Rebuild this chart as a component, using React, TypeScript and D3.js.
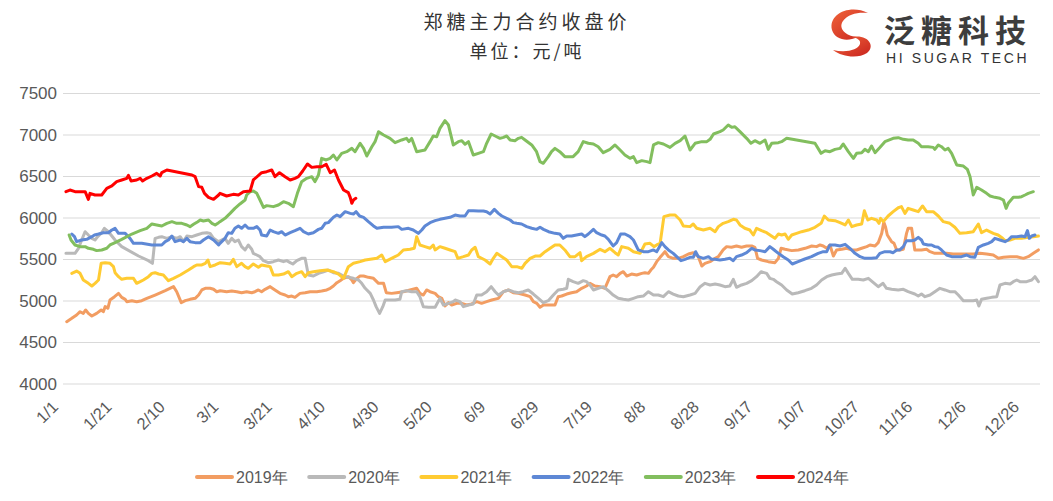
import * as d3 from "d3";

const seriesNames = ["2019年", "2020年", "2021年", "2022年", "2023年", "2024年"];
const seriesColors = ["#F29D62", "#B9B9B9", "#FFCB32", "#5E88D5", "#82BE5E", "#FF0000"];

const yTicks = [4000, 4500, 5000, 5500, 6000, 6500, 7000, 7500];
const xTickDays = [0, 20, 40, 60, 80, 100, 120, 140, 160, 180, 200, 220, 240, 260, 280, 300, 320, 340, 360];
const xTickLabels = ["1/1", "1/21", "2/10", "3/1", "3/21", "4/10", "4/30", "5/20", "6/9", "6/29", "7/19", "8/8", "8/28", "9/17", "10/7", "10/27", "11/16", "12/6", "12/26"];

// [day of year, close price]
const s2019: [number, number][] = [[0.9,4751],[2.8,4791],[4.6,4831],[5.9,4871],[7.1,4851],[8,4892],[9,4851],[10.3,4819],[12.1,4851],[13.8,4892],[14.6,4871],[15.3,4932],[16.3,4912],[17.1,5012],[18.8,5052],[20.3,5092],[21.5,5044],[22.8,5020],[23.4,4992],[25.3,5004],[27.1,4992],[29,5004],[30.9,5032],[34,5072],[37.8,5124],[40.9,5173],[42.1,5112],[43.8,4980],[45.3,5004],[47.1,5020],[49,5032],[50.3,5072],[51.5,5133],[52.8,5153],[54.6,5153],[55.9,5141],[57.1,5112],[58.4,5124],[60.8,5112],[62.7,5120],[64.6,5112],[66.4,5100],[68.3,5112],[70.2,5100],[71.4,5112],[72.7,5133],[73.9,5112],[75.2,5141],[77.1,5173],[78.9,5133],[80.8,5092],[82.7,5072],[83.9,5052],[85.2,5060],[86.4,5044],[88.3,5092],[90.2,5100],[92.1,5112],[94.6,5112],[96.4,5120],[98.3,5133],[99.6,5153],[100.8,5181],[102.1,5221],[103.3,5245],[104.6,5273],[106.4,5293],[107.7,5253],[108.3,5221],[109.6,5273],[110.8,5301],[112.1,5301],[113.9,5285],[115.8,5273],[117.7,5213],[119.6,5213],[120.6,5100],[122.6,5092],[124.5,5100],[127,5112],[129.5,5133],[132,5153],[133.2,5092],[134.5,5072],[135.7,5133],[137,5112],[138.9,5092],[140.1,5052],[141.4,5032],[142.6,4940],[143.9,4980],[145.1,4952],[147,4972],[148.9,4972],[150.7,4952],[152.6,4964],[154.5,4992],[156.3,4972],[158.2,4992],[160.1,5012],[162.6,5032],[164.5,5112],[166.4,5133],[168.2,5100],[170.1,5092],[172.6,5072],[174.5,5052],[175.7,4992],[177,4972],[178.2,4924],[179.5,4952],[181.4,4952],[183.8,4952],[185,5052],[186.3,5060],[188.2,5084],[190,5100],[191.9,5112],[193.8,5153],[195.6,5181],[196.9,5213],[198.8,5181],[200.7,5173],[202.5,5153],[204.4,5293],[205.6,5313],[206.9,5293],[208.2,5333],[209.4,5353],[210.7,5301],[212.5,5325],[214.4,5313],[216.3,5333],[217.5,5341],[218.8,5333],[219.7,5373],[220.7,5406],[221.9,5474],[223.2,5526],[225,5594],[226.3,5534],[228.1,5514],[230,5514],[231.9,5534],[233.8,5566],[235.6,5582],[237.5,5534],[238.8,5422],[240,5454],[241.9,5474],[243.8,5514],[245,5534],[246.8,5615],[248.1,5655],[249.9,5647],[251.8,5663],[253.7,5647],[255.6,5663],[257.5,5663],[258.7,5647],[259.7,5514],[261.2,5494],[263.7,5474],[266.2,5462],[267.5,5514],[268.5,5635],[270,5623],[272.5,5607],[275,5615],[277.5,5635],[280,5663],[281.8,5655],[283.1,5675],[284.3,5663],[285.6,5635],[286.8,5675],[288.1,5542],[289.3,5615],[291.2,5623],[293.1,5635],[294.9,5615],[296.8,5615],[298.7,5635],[300.6,5655],[301.8,5675],[303.7,5663],[304.9,5703],[306.2,5815],[307,5950],[307.6,5896],[308.3,5795],[309.9,5715],[310.8,5695],[311.8,5615],[313,5615],[314.3,5623],[315.5,5815],[316.1,5876],[317.4,5876],[318.6,5615],[319.9,5615],[321.1,5615],[323,5623],[324.3,5594],[326.1,5574],[328,5574],[330.5,5574],[333,5566],[335.5,5566],[338,5566],[340.5,5566],[343,5574],[345.5,5566],[348,5554],[349.9,5514],[351.8,5526],[354.3,5534],[356.8,5534],[359.3,5514],[361.1,5534],[363,5574],[364.9,5615]];

const s2020: [number, number][] = [[0.6,5574],[4,5574],[5.3,5635],[6.5,5735],[7.8,5835],[9,5795],[10.3,5755],[11.5,5735],[12.5,5775],[14,5823],[15,5876],[16.5,5835],[17.8,5783],[19,5735],[21.5,5655],[27.8,5542],[31.5,5486],[33,5454],[34,5755],[35.3,5767],[36.5,5775],[38.4,5755],[40.3,5775],[42.1,5755],[43.4,5775],[44.6,5715],[45.9,5783],[47.8,5775],[49.6,5795],[51.5,5815],[53.4,5823],[54.6,5815],[55.9,5755],[57.8,5715],[60.2,5755],[61.4,5695],[62.7,5755],[63.9,5715],[65.2,5735],[66.4,5655],[67.7,5615],[68.9,5675],[70.2,5623],[70.8,5574],[72.1,5554],[73.3,5534],[74.6,5486],[76.4,5462],[78.3,5474],[80.2,5494],[82.1,5474],[83.3,5486],[84.6,5462],[85.6,5446],[87.1,5486],[88.9,5514],[90.2,5514],[91.4,5313],[93.3,5301],[95.2,5333],[97.1,5353],[98.9,5373],[100.8,5341],[102.7,5333],[104.6,5301],[106.4,5285],[108.3,5273],[110.2,5253],[111.4,5213],[112.7,5153],[114.6,5092],[115.8,5012],[116.8,4932],[118.1,4851],[119.3,4932],[120.2,5012],[122,5012],[123.9,5012],[125.7,5020],[126.4,5112],[128.2,5124],[130.1,5112],[132,5112],[133.2,5052],[134.5,4932],[136.4,4924],[138.9,4924],[140.7,5032],[142,4952],[143.9,4972],[145.7,4992],[146.4,5012],[148.2,4992],[149.5,4932],[151.4,4952],[153.2,4964],[154.5,5072],[156.3,5072],[158.2,5112],[159.9,5173],[161.4,5112],[162.6,5072],[164.5,5112],[166.4,5133],[168.2,5112],[170.1,5100],[171.9,5112],[173.8,5133],[175.7,5084],[177.6,5032],[179.4,4980],[181.3,5004],[183.2,5072],[185,5133],[186.9,5141],[188.2,5153],[188.8,5261],[190.6,5233],[192.5,5213],[194.4,5245],[195.6,5233],[196.9,5193],[198.2,5133],[200,5153],[201.9,5173],[203.8,5124],[205.6,5072],[207.5,5032],[209.4,5020],[211.3,5012],[213.2,5032],[215,5052],[216.9,5060],[218.8,5112],[220.7,5072],[222.5,5072],[224.4,5052],[226.3,5112],[228.1,5084],[230,5060],[231.9,5052],[234.4,5072],[236.3,5092],[238.2,5173],[240,5213],[241.9,5193],[243.8,5205],[245.6,5193],[247.5,5173],[249.3,5181],[250.6,5261],[251.8,5165],[253.7,5193],[255.6,5213],[257.5,5245],[259.3,5293],[261,5353],[263.1,5333],[264.3,5273],[265.6,5261],[266.8,5233],[268.7,5193],[270.6,5133],[272.7,5084],[274.9,5100],[277.4,5124],[279.9,5153],[281.8,5193],[283.7,5253],[285.6,5293],[287.5,5313],[289.3,5325],[291.2,5333],[292.5,5394],[293.7,5333],[295.2,5261],[297.4,5261],[299.3,5253],[301.2,5273],[303.1,5221],[304.9,5173],[306.7,5213],[308,5153],[309.9,5141],[312.4,5133],[314.3,5141],[316.1,5112],[318.6,5084],[319.9,5060],[321.1,5084],[322.4,5052],[324.3,5072],[326.1,5112],[328,5153],[329.9,5133],[331.7,5112],[333.6,5112],[334.9,5072],[336.8,5004],[338.6,5004],[340.5,5004],[341.8,5012],[342.6,4940],[343.6,5020],[345.5,5032],[347.4,5044],[349.3,5052],[350.5,5193],[352.4,5213],[354.3,5205],[355.5,5233],[356.8,5253],[358,5233],[360.5,5233],[362.4,5253],[363.6,5293],[364.9,5233]];

const s2021: [number, number][] = [[2.8,5333],[4.6,5361],[5.9,5333],[7.1,5253],[9,5213],[10.3,5181],[11.5,5213],[12.8,5253],[13.8,5454],[15.3,5462],[17.1,5454],[18.4,5414],[19,5341],[20.3,5293],[21.5,5261],[23.4,5273],[25.9,5273],[27.1,5213],[28.4,5233],[29.6,5253],[31.5,5293],[32.8,5333],[34,5341],[35.3,5325],[37.1,5313],[39,5245],[40.9,5273],[43.4,5313],[46.5,5373],[48.4,5414],[49.6,5434],[51.5,5434],[52.8,5454],[53.8,5494],[54.6,5414],[56.5,5434],[58.4,5462],[60.2,5454],[62.1,5446],[63.3,5502],[64.6,5414],[66.4,5454],[67.7,5414],[68.9,5394],[70.8,5446],[72.7,5406],[73.9,5434],[75.8,5422],[77.1,5414],[78.3,5313],[80.2,5313],[82.1,5325],[83.9,5353],[85.2,5293],[87.1,5333],[88.9,5353],[90.2,5293],[91.4,5341],[93.3,5353],[95.8,5365],[98.3,5373],[100.8,5353],[102.7,5325],[104.6,5273],[106.4,5414],[108.3,5454],[110.8,5474],[112.7,5494],[114.6,5502],[117.1,5514],[118.9,5554],[120.2,5474],[122.6,5514],[125.1,5554],[127,5615],[129.5,5623],[131.1,5635],[132,5775],[133.2,5675],[135.1,5655],[137,5635],[138.2,5675],[138.9,5615],[140.7,5655],[142.6,5635],[144.5,5615],[146.4,5594],[147.4,5514],[149.5,5534],[151.4,5554],[152.6,5615],[153.9,5647],[155.1,5534],[157.6,5494],[159.5,5446],[160.7,5514],[162,5574],[163.9,5534],[165.7,5494],[167.6,5414],[169.5,5414],[171.4,5394],[172.6,5454],[174.5,5514],[176.4,5542],[178.2,5542],[180.1,5594],[182,5635],[183.8,5675],[185.6,5675],[187.5,5615],[189.4,5534],[191.3,5534],[193.2,5582],[193.8,5486],[195.6,5534],[198.2,5574],[200.7,5623],[202.5,5594],[204.4,5635],[206.3,5582],[207.5,5554],[208.8,5655],[211.3,5635],[213.2,5594],[215.7,5574],[217.5,5687],[219.4,5695],[220.9,5655],[221.9,5675],[223.2,5695],[224.6,6016],[226.9,6036],[228.8,6036],[230.7,5976],[231.9,5904],[234.4,5896],[235.6,5928],[236.9,5876],[239.4,5855],[241.9,5876],[243.8,5835],[245,5896],[246.8,5936],[248.7,5956],[250.6,5984],[251.8,5976],[253.1,5916],[254.9,5876],[256.8,5855],[258.1,5795],[259.3,5876],[261.2,5847],[263.1,5823],[264.9,5783],[266.2,5755],[267.5,5807],[268.7,5795],[270,5807],[271.2,5743],[272.5,5795],[274.3,5815],[276.2,5835],[278.7,5855],[281.2,5888],[283.5,5936],[284.7,6024],[286.2,5976],[288.7,5968],[290.6,5944],[292.5,5916],[293.7,5976],[295,5896],[296.8,5916],[298.7,5928],[299.7,6088],[301,5976],[302.4,5996],[304.3,5976],[305.2,5936],[305.8,5996],[306.8,5956],[308.6,6024],[310.5,6076],[312.4,6124],[313.6,6137],[314.9,6056],[316.1,6116],[318,6096],[319.9,6076],[321.5,6145],[323,6076],[325.5,6076],[327.4,6024],[329.3,5956],[331.7,5936],[333.6,5888],[335.5,5815],[338,5823],[340.5,5835],[342.4,5928],[343.6,5823],[345.5,5855],[348,5815],[349.8,5795],[351.5,5755],[352.4,5727],[354.3,5735],[356.1,5755],[358.6,5755],[361.1,5767],[363,5775],[364.9,5783]];

const s2022: [number, number][] = [[2.8,5807],[3.8,5775],[4.6,5715],[6.5,5735],[8.4,5743],[10.3,5775],[11.3,5795],[12.8,5807],[14.6,5823],[16.5,5823],[17.8,5855],[19,5876],[20.3,5815],[22.8,5815],[24.6,5755],[25.9,5695],[29,5695],[32.8,5675],[36.5,5675],[37.8,5715],[39,5735],[40.3,5783],[41.5,5715],[43.4,5735],[44.6,5715],[45.9,5755],[47.1,5715],[49,5703],[50.9,5703],[52.1,5735],[54,5775],[55.9,5735],[57.8,5675],[58.3,5695],[60.2,5755],[61.4,5823],[62.7,5815],[63.9,5876],[65.2,5904],[66.4,5876],[67.7,5916],[68.9,5876],[70.8,5876],[72.1,5896],[73.3,5855],[73.9,5795],[75.8,5783],[77.1,5855],[78.3,5835],[80.2,5815],[81.4,5835],[82.7,5795],[84.6,5823],[86.4,5847],[88.3,5876],[89.6,5835],[91.4,5807],[93.3,5823],[95.2,5863],[96.4,5876],[97.7,5936],[98.9,5944],[100.8,6008],[102.1,6036],[103.3,6016],[105.2,6076],[107.1,6056],[108.3,6048],[109.3,6076],[110.6,6024],[112.1,6008],[113.9,5956],[115.8,5904],[117.1,5876],[119.6,5888],[122.6,5888],[125.1,5896],[126.4,5863],[128.9,5876],[130.7,5855],[132.6,5815],[133.9,5855],[135.1,5904],[137,5944],[138.9,5968],[140.7,5984],[142.6,5996],[144.5,6008],[146.4,6036],[148.2,6024],[150.1,6024],[151.4,6088],[153.2,6088],[155.1,6084],[157,6084],[158.2,6076],[159.5,6048],[161.1,6104],[162.6,6056],[163.9,6024],[165.7,5996],[167,5976],[168.2,5944],[169.5,5936],[171.3,5928],[173.2,5896],[175.1,5876],[176.9,5863],[178.2,5888],[179.5,5863],[181.4,5835],[183.8,5815],[185.6,5807],[186.9,5755],[188.2,5783],[190,5783],[191.9,5795],[193.8,5807],[195,5775],[196.3,5807],[198.2,5863],[199.4,5823],[201.3,5795],[202.5,5783],[203.8,5743],[205.6,5663],[206.9,5703],[208.4,5807],[210,5807],[211.9,5775],[213.2,5735],[215,5615],[216.9,5594],[218.8,5594],[220.7,5615],[221.9,5594],[223.8,5703],[225,5655],[226.3,5615],[228.1,5574],[229.4,5534],[231,5486],[232.5,5502],[234.4,5526],[235.6,5526],[236.5,5594],[237.5,5534],[239.4,5514],[241.3,5534],[242.5,5502],[243.7,5502],[245.6,5494],[247.5,5502],[249.3,5514],[250.6,5486],[251.8,5534],[253.7,5554],[255.6,5582],[257.5,5635],[258.7,5615],[260.6,5607],[262.5,5594],[264.3,5655],[265.6,5623],[267.5,5574],[269.3,5534],[271.2,5494],[272.7,5446],[274.9,5474],[277.4,5506],[279.9,5534],[282.4,5574],[284.3,5594],[285.6,5594],[286.8,5675],[288.7,5675],[290.6,5663],[292.5,5683],[294.3,5635],[296.2,5574],[298.1,5534],[299.9,5514],[302.4,5514],[304.3,5522],[305.5,5574],[307.4,5594],[309.3,5594],[310.5,5582],[311.8,5615],[313,5615],[314.3,5655],[315.5,5727],[317.4,5727],[318.6,5735],[319.9,5767],[321.1,5735],[321.8,5687],[323.6,5675],[324.9,5675],[326.1,5655],[327.4,5647],[328.6,5615],[330.5,5554],[332.4,5534],[334.3,5534],[336.1,5534],[338,5554],[339.3,5534],[341.1,5526],[342.4,5647],[344.3,5675],[346.1,5695],[347.4,5715],[348.6,5755],[350.5,5735],[352.4,5715],[353.6,5735],[354.9,5775],[356.8,5775],[358.6,5783],[359.9,5775],[360.8,5848],[361.5,5755],[362.4,5783],[363.6,5795]];

const s2023: [number, number][] = [[1.8,5795],[2.5,5735],[4,5675],[5.9,5655],[7.8,5655],[9,5635],[10.9,5623],[12.1,5607],[14,5615],[15.9,5635],[17.1,5675],[18.4,5695],[21.5,5743],[25.3,5807],[28.4,5847],[30.9,5876],[32.8,5928],[34.6,5916],[36.5,5904],[38.4,5936],[40.3,5956],[42.1,5936],[44,5936],[45.9,5916],[47.1,5896],[48.4,5924],[50,5956],[50.9,5976],[52.1,5964],[54,5976],[55.3,5936],[56.5,5916],[57.8,5944],[58.3,5956],[60.2,5996],[62.1,6056],[63.9,6116],[65.8,6169],[67.7,6217],[68.3,6277],[69.6,6317],[70.8,6325],[72.1,6297],[73.3,6217],[74.6,6128],[75.8,6149],[78.3,6137],[80.2,6157],[82.1,6197],[83.9,6177],[85.8,6137],[87.3,6297],[88.9,6438],[90.8,6478],[92.7,6498],[93.9,6438],[95.2,6518],[96.4,6719],[98.1,6699],[99.6,6719],[100.8,6759],[102.1,6699],[103.9,6779],[105.8,6799],[107.7,6839],[108.9,6799],[110.8,6900],[112.1,6839],[113.3,6747],[115.2,6859],[116.4,6920],[117.7,7040],[119.6,7000],[122,6960],[123.9,6908],[126.4,6940],[128.2,6960],[129.1,6920],[130.1,6960],[132,6799],[135.1,6819],[137,6920],[138.2,6988],[139.5,6980],[140.7,7080],[142.6,7173],[143.9,7120],[145.7,6880],[147.6,6920],[148.9,6932],[150.1,6888],[151.4,6920],[153.2,6759],[155.1,6779],[157,6799],[158.2,6900],[159.9,7012],[161.4,6988],[163.2,6960],[164.5,6972],[165.7,6988],[167,6940],[168.8,6932],[170.1,6960],[171.3,6972],[172.6,6940],[175.1,6880],[176.9,6799],[178.2,6679],[179.4,6659],[181.3,6739],[182.5,6800],[183.8,6839],[185.6,6799],[187.5,6739],[190.6,6739],[192.5,6799],[194.4,6920],[196.3,6900],[198.2,6892],[200,6859],[201.9,6787],[204.4,6827],[206.3,6880],[208.2,6819],[210,6759],[211.9,6719],[213.2,6739],[214.4,6667],[216.3,6691],[218.2,6679],[219.4,6667],[220.7,6880],[222.5,6908],[224.4,6892],[226.9,6851],[228.8,6900],[230.7,6932],[232.5,6988],[234.4,6819],[236.3,6900],[238.8,6920],[240.7,6920],[241.9,6948],[243.2,7012],[245.6,7040],[246.8,7060],[248.7,7120],[250,7092],[251.2,7100],[253.1,7040],[255.6,6960],[257.2,6900],[258.7,6932],[260.6,6900],[262.5,6940],[263.7,6827],[265,6900],[267.5,6908],[268.7,6920],[270.6,6960],[281.2,6900],[283.5,6779],[285,6811],[286.8,6799],[288.7,6827],[290.6,6839],[291.8,6892],[293.7,6799],[295.6,6719],[296.8,6779],[298.7,6787],[299.9,6827],[301.2,6799],[302.4,6868],[303.7,6787],[305.5,6850],[307.4,6920],[310.5,6960],[312.4,6968],[314.3,6948],[316.1,6940],[318,6940],[319.9,6900],[321.1,6859],[323.6,6859],[325.5,6851],[326.1,6827],[327.4,6880],[328.6,6859],[329.9,6819],[331.1,6839],[332.4,6779],[334.3,6639],[336.8,6626],[338.3,6586],[339.3,6498],[340.5,6277],[341.8,6370],[343.6,6337],[345.5,6297],[346.8,6265],[348.6,6249],[350.5,6237],[351.8,6217],[352.8,6116],[353.6,6177],[355.5,6249],[357.4,6249],[358.6,6257],[359.9,6277],[361.1,6297],[363,6317]];

const s2024: [number, number][] = [[0.6,6317],[2.1,6337],[4,6317],[7.8,6317],[9,6225],[9.6,6297],[11.5,6277],[14,6277],[15.9,6357],[17.8,6386],[19.6,6438],[21.5,6458],[23.4,6478],[24,6514],[25,6446],[27.1,6458],[28.4,6478],[29.3,6446],[30.9,6478],[32.8,6506],[34.6,6538],[35.9,6506],[36.5,6546],[38.4,6578],[47.8,6518],[49,6498],[50.3,6378],[51.5,6370],[52.5,6297],[54,6249],[55.9,6225],[57.8,6277],[58.3,6297],[60.8,6265],[63.3,6285],[65.2,6277],[67.1,6317],[69.6,6325],[70.8,6458],[73.9,6546],[75.8,6558],[77.7,6578],[78.9,6498],[80.6,6546],[82.7,6498],[84.6,6458],[86.4,6478],[87.7,6498],[89.3,6566],[91.1,6651],[92.7,6610],[94.6,6618],[96.4,6618],[98.1,6647],[99.6,6546],[101.2,6578],[102.7,6458],[104.6,6337],[106.4,6305],[107.1,6249],[107.7,6177],[108.3,6217],[109.2,6237]];

const allSeries = [s2019, s2020, s2021, s2022, s2023, s2024];

const W = 1053;
const H = 501;
const plotLeft = 63;
const plotRight = 1040;
const plotTop = 93.5;
const plotBottom = 384;

const numFont = "'Liberation Sans Narrow', 'Liberation Sans', Arial, sans-serif";
const cjkFont = "'Noto Sans CJK SC', 'Noto Sans', sans-serif";

export default function App() {
  const x = d3.scaleLinear().domain([-0.5, 365.5]).range([plotLeft, plotRight]);
  const y = d3.scaleLinear().domain([4000, 7500]).range([plotBottom, plotTop]);

  const line = d3
    .line<[number, number]>()
    .x((d) => x(d[0]))
    .y((d) => y(d[1]));

  return (
    <svg width={W} height={H} style={{ display: "block", position: "absolute", left: 0, top: 0, background: "#fff" }}>
      <defs>
        <linearGradient id="logoGrad" x1="0" y1="0" x2="1" y2="1">
          <stop offset="0%" stopColor="#F0643A" />
          <stop offset="100%" stopColor="#C8231E" />
        </linearGradient>
      </defs>

      {/* title */}
      <text x={527} y={29} textAnchor="middle" fontFamily={cjkFont} fontSize={19} fill="#333" letterSpacing={4}>
        郑糖主力合约收盘价
      </text>
      <text x={527} y={58} textAnchor="middle" fontFamily={cjkFont} fontSize={18} fill="#333" letterSpacing={3}>
        单位：元/吨
      </text>

      {/* logo */}
      <g>
        <path d="M868,13 C850,4 828,14 832,30 C835,40 848,42 857,37 C845,36 838,28 843,21 C848,14 858,12 868,13 Z" fill="url(#logoGrad)" />
        <path d="M852,37 C868,34 876,46 867,53 C858,59 842,57 833,50 C846,53 858,50 860,44 C861,40 857,38 852,37 Z" fill="url(#logoGrad)" />
        <text x={884} y={42} fontFamily={cjkFont} fontSize={31} fontWeight={700} fill="#3d3d3d" letterSpacing={6}>
          泛糖科技
        </text>
        <text x={886} y={63} fontFamily="'Liberation Sans', Arial, sans-serif" fontSize={14} fill="#333" letterSpacing={2.6}>
          HI SUGAR TECH
        </text>
      </g>

      {/* grid + y labels */}
      {yTicks.map((t) => (
        <g key={t}>
          <line x1={plotLeft} x2={plotRight} y1={y(t)} y2={y(t)} stroke="#d9d9d9" strokeWidth={1.2} />
          <text x={57} y={y(t)} dy="0.35em" textAnchor="end" fontFamily={numFont} fontSize={17} fill="#595959">
            {t}
          </text>
        </g>
      ))}

      {/* x labels */}
      {xTickDays.map((d, i) => (
        <text
          key={d}
          transform={`translate(${x(d) - 5},${plotBottom + 24}) rotate(-45)`}
          textAnchor="end"
          fontFamily={numFont}
          fontSize={16.5}
          fill="#595959"
        >
          {xTickLabels[i]}
        </text>
      ))}

      {/* series */}
      {allSeries.map((s, i) => (
        <path
          key={seriesNames[i]}
          d={line(s) || ""}
          fill="none"
          stroke={seriesColors[i]}
          strokeWidth={3}
          strokeLinejoin="round"
          strokeLinecap="round"
        />
      ))}

      {/* legend */}
      {seriesNames.map((name, i) => {
        const lx = 197 + i * 112.2;
        return (
          <g key={name}>
            <line x1={lx} x2={lx + 35} y1={477} y2={477} stroke={seriesColors[i]} strokeWidth={4} strokeLinecap="round" />
            <text x={lx + 39} y={477} dy="0.35em" fontFamily={numFont} fontSize={16} fill="#595959">
              {name}
            </text>
          </g>
        );
      })}
    </svg>
  );
}
